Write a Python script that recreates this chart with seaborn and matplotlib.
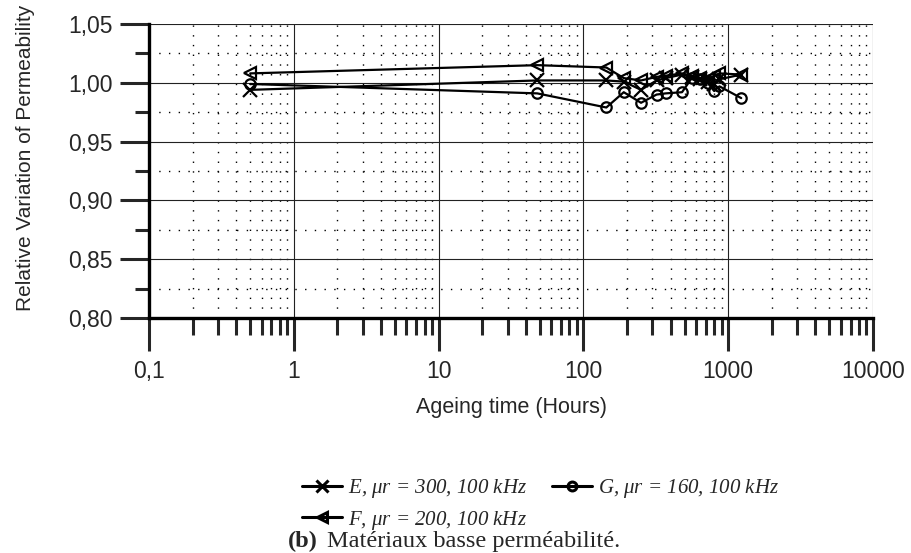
import numpy as np
import pandas as pd
import matplotlib
matplotlib.use("Agg")
import matplotlib.pyplot as plt
import seaborn as sns
from matplotlib.ticker import FixedLocator, LogLocator, MultipleLocator, FuncFormatter, NullFormatter
from matplotlib.lines import Line2D

# ---------------------------------------
# data
# ---------------------------------------
hours = [0.5, 48, 144, 190, 250, 320, 370, 480, 560, 640, 720, 800, 870, 1230]
e_values = [0.994, 1.002, 1.002, 1.001, 0.994, 1.002, 1.004, 1.007, 1.005, 1.003, 1.001, 0.999, 1.003, 1.007]
g_values = [0.999, 0.991, 0.979, 0.992, 0.983, 0.990, 0.991, 0.992, 1.004, 1.003, 1.000, 0.993, 0.997, 0.987]
f_values = [1.008, 1.015, 1.013, 1.004, 1.002, 1.005, 1.006, 1.008, 1.006, 1.004, 1.003, 1.006, 1.008, 1.007]

series_names = ["E", "F", "G"]
series_labels = [
    r"E, $\mu$r = 300, 100 kHz",
    r"F, $\mu$r = 200, 100 kHz",
    r"G, $\mu$r = 160, 100 kHz",
]
y_ticks = [0.80, 0.85, 0.90, 0.95, 1.00, 1.05]
x_ticks = [0.1, 1, 10, 100, 1000, 10000]
x_tick_labels = ["0,1", "1", "10", "100", "1000", "10000"]

df = pd.DataFrame({
    "hours": hours * 3,
    "value": e_values + f_values + g_values,
    "series": sum([[s] * len(hours) for s in series_names], []),
})

# ---------------------------------------
# style
# ---------------------------------------
sns.set_style("white")
plt.rcParams["font.family"] = ["Liberation Sans", "DejaVu Sans"]
plt.rcParams["mathtext.fontset"] = "custom"
plt.rcParams["mathtext.it"] = "Liberation Serif:italic"
plt.rcParams["mathtext.rm"] = "Liberation Serif:italic"

fig = plt.figure(figsize=(9.11, 5.53), dpi=100)
ax = fig.add_axes([149 / 911, 1 - 318 / 553, 724 / 911, 294 / 553])

markers = {"E": "x", "F": "<", "G": "o"}
msizes = {"E": 10, "F": 9, "G": 7.5}
handles = []
for name, label in zip(series_names, series_labels):
    sub = df[df["series"] == name]
    sns.lineplot(data=sub, x="hours", y="value", ax=ax, sort=False,
                 color="black", lw=1.6, marker=markers[name],
                 markersize=msizes[name], markeredgewidth=1.6,
                 markerfacecolor="none", markeredgecolor="black",
                 label=label, legend=False)
    handles.append(Line2D([0], [0], color="black", lw=2.2, marker=markers[name],
                          markersize=msizes[name] * 0.85, markeredgewidth=2.2,
                          markerfacecolor="none", markeredgecolor="black"))

ax.set_xscale("log")
ax.set_xlim(0.1, 10000)
ax.set_ylim(0.80, 1.05)

ax.xaxis.set_major_locator(FixedLocator(x_ticks))
ax.xaxis.set_major_formatter(FuncFormatter(lambda v, p: x_tick_labels[x_ticks.index(v)] if v in x_ticks else ""))
ax.xaxis.set_minor_locator(LogLocator(base=10, subs=np.arange(2, 10)))
ax.xaxis.set_minor_formatter(NullFormatter())
ax.yaxis.set_major_locator(FixedLocator(y_ticks))
ax.yaxis.set_major_formatter(FuncFormatter(lambda v, p: f"{v:.2f}".replace(".", ",")))
ax.yaxis.set_minor_locator(MultipleLocator(0.025))

# grid: solid majors, dotted minors
ax.grid(which="major", axis="both", color="#222222", lw=0.8, ls="-")
ax.grid(which="minor", axis="both", color="black", lw=1.0, ls=(0, (1, 6)))
ax.set_axisbelow(True)

for side in ["top", "right"]:
    ax.spines[side].set_visible(False)
for side in ["left", "bottom"]:
    ax.spines[side].set_linewidth(2.4)
    ax.spines[side].set_color("black")

ax.tick_params(axis="x", which="major", direction="out", length=24, width=2.2, pad=6,
               labelsize=16.5, bottom=True)
ax.tick_params(axis="x", which="minor", direction="out", length=12, width=2.2, bottom=True)
ax.tick_params(axis="y", which="major", direction="out", length=21, width=2.2, pad=5,
               labelsize=16.5, left=True)
ax.tick_params(axis="y", which="minor", direction="out", length=10, width=2.2, left=True)

ax.set_xlabel("Ageing time (Hours)", fontsize=15.5)
ax.set_ylabel("Relative Variation of Permeability", fontsize=15)
ax.xaxis.set_label_coords(0.5, -0.27)
ax.yaxis.set_label_coords(-0.157, 0.545)

# legend below the plot (column-wise: E,F | G)
fig.legend(handles, series_labels, loc="upper left", bbox_to_anchor=(292 / 911, 1 - 467 / 553),
           ncol=2, frameon=False, handlelength=1.9, handletextpad=0.3,
           columnspacing=1.2, labelspacing=0.4, borderpad=0,
           prop={"family": "Liberation Serif", "style": "italic", "size": 15})

# caption
fig.text(318 / 911, 1 - 541 / 553, "(b)", ha="right", va="center",
         family="Liberation Serif", weight="bold", fontsize=17.5)
fig.text(327 / 911, 1 - 541 / 553, "Matériaux basse perméabilité.", ha="left", va="center",
         family="Liberation Serif", fontsize=17.5)

fig.savefig("out.png", dpi=100)
